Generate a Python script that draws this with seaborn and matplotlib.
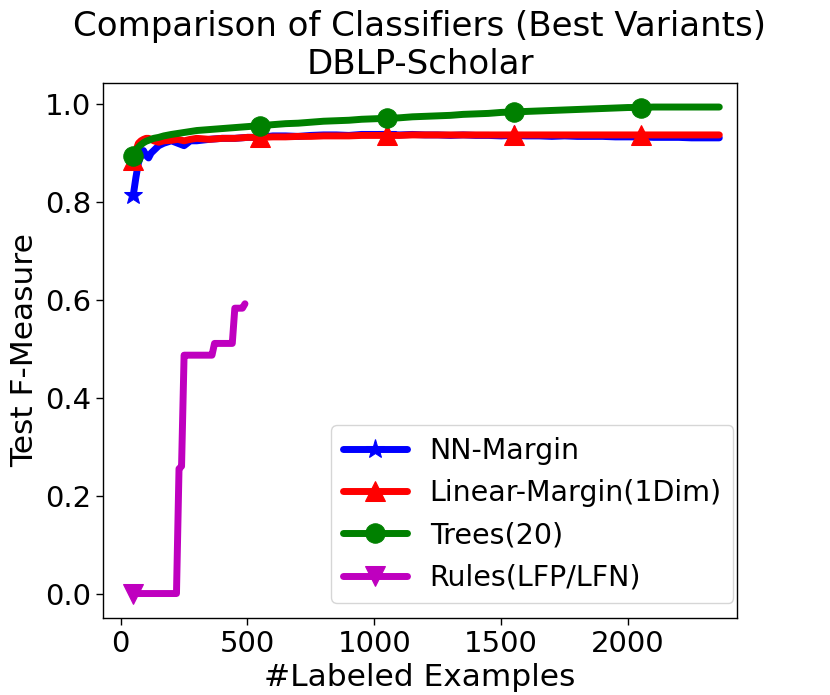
import pandas as pd
import seaborn as sns
import matplotlib
matplotlib.use('Agg')
import matplotlib.pyplot as plt

# labeled examples grid for the three learned classifiers
n_labeled = [50, 60, 70, 80, 90, 100, 110, 120, 130, 150, 170, 200, 225, 250, 275,
             300, 350, 400, 450, 500] + list(range(550, 2351, 50)) + [2360]

nn_margin = [0.815, 0.850, 0.880, 0.895, 0.905, 0.895, 0.890, 0.900, 0.905, 0.915,
             0.920, 0.925, 0.920, 0.915, 0.925, 0.925, 0.928, 0.930, 0.930, 0.932,
             0.932, 0.935, 0.935, 0.934, 0.936, 0.937, 0.937, 0.936, 0.938, 0.938,
             0.938, 0.937, 0.938, 0.937, 0.937, 0.936, 0.937, 0.936, 0.936, 0.935,
             0.936, 0.935, 0.935, 0.934, 0.935, 0.934, 0.934, 0.934, 0.933, 0.933,
             0.933, 0.932, 0.932, 0.932, 0.931, 0.931, 0.931, 0.931]

linear_margin = [0.885, 0.905, 0.920, 0.925, 0.928, 0.930, 0.930, 0.928, 0.925, 0.922,
                 0.925, 0.926, 0.928, 0.925, 0.928, 0.930, 0.928, 0.930, 0.930, 0.932,
                 0.932, 0.933, 0.933, 0.934, 0.934, 0.935, 0.935, 0.935, 0.936, 0.936,
                 0.936, 0.936, 0.937, 0.937, 0.937, 0.937, 0.937, 0.937, 0.937, 0.937,
                 0.937, 0.937, 0.937, 0.937, 0.937, 0.937, 0.937, 0.937, 0.937, 0.937,
                 0.937, 0.937, 0.937, 0.937, 0.937, 0.937, 0.937, 0.937]

trees = [0.893, 0.905, 0.912, 0.917, 0.921, 0.924, 0.926, 0.928, 0.930, 0.932,
         0.935, 0.938, 0.940, 0.942, 0.944, 0.946, 0.948, 0.950, 0.952, 0.954,
         0.956, 0.958, 0.960, 0.961, 0.963, 0.965, 0.966, 0.967, 0.969, 0.970,
         0.971, 0.972, 0.974, 0.975, 0.976, 0.977, 0.979, 0.980, 0.981, 0.983,
         0.984, 0.985, 0.986, 0.987, 0.988, 0.989, 0.990, 0.991, 0.992, 0.993,
         0.993, 0.994, 0.994, 0.994, 0.994, 0.994, 0.994, 0.994]

# rules only run up to ~490 examples
rules_labeled = list(range(50, 491, 10))
rules = [0.0] * 18 + [0.255, 0.260] + [0.487] * 12 + [0.511] * 8 + [0.583] * 4 + [0.592]

marker_at = [50, 550, 1050, 1550, 2050]

series = [
    ('NN-Margin', n_labeled, nn_margin, '#0000ff', '*'),
    ('Linear-Margin(1Dim)', n_labeled, linear_margin, '#ff0000', '^'),
    ('Trees(20)', n_labeled, trees, '#008000', 'o'),
    ('Rules(LFP/LFN)', rules_labeled, rules, '#bf00bf', 'v'),
]

sns.set_theme(style='ticks')
plt.rcParams['font.family'] = ['DejaVu Sans']
plt.rcParams['text.color'] = 'black'

fig = plt.figure(figsize=(8.3, 6.95), dpi=100)
ax = fig.add_axes([0.124, 0.111, 0.764, 0.770])

for name, xs, ys, color, mk in series:
    df = pd.DataFrame({'x': xs, 'y': ys})
    idx = [i for i, v in enumerate(xs) if v in marker_at]
    sns.lineplot(data=df, x='x', y='y', ax=ax, color=color, marker=mk,
                 markevery=idx, linewidth=5, markersize=14,
                 markeredgecolor=color, label=name, estimator=None)

ax.set_xlim(-70, 2430)
ax.set_xticks([0, 500, 1000, 1500, 2000])
ax.set_yticks([0.0, 0.2, 0.4, 0.6, 0.8, 1.0])
ax.tick_params(labelsize=21, length=5, width=1, colors='black')
for s in ax.spines.values():
    s.set_color('black')
    s.set_linewidth(1)
ax.set_xlabel('#Labeled Examples', fontsize=22.5, color='black')
ax.set_ylabel('Test F-Measure', fontsize=22.5, color='black')
ax.set_title('Comparison of Classifiers (Best Variants)\nDBLP-Scholar', fontsize=24.5,
             color='black')
leg = ax.legend(loc='lower right', bbox_to_anchor=(0.994, 0.028), borderaxespad=0,
                fontsize=20.5, frameon=True, fancybox=True,
                framealpha=0.8, edgecolor='#cccccc', handlelength=2.25)
for t in leg.get_texts():
    t.set_color('black')

fig.savefig('out.png', dpi=100)
